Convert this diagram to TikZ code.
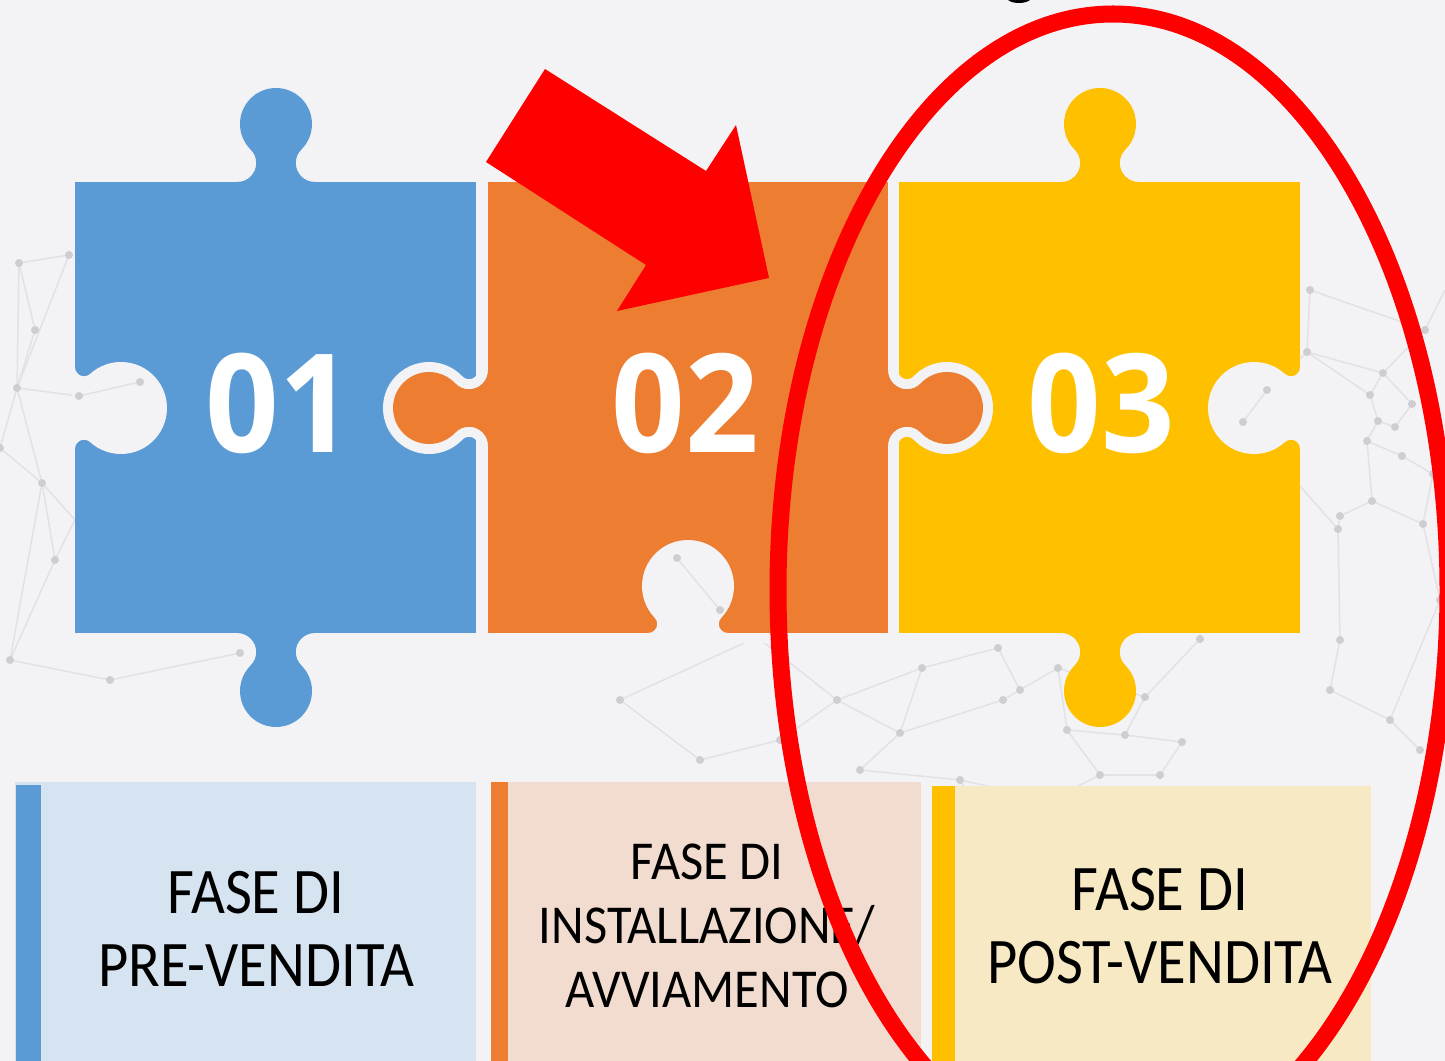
\documentclass[tikz,border=0pt]{standalone}
\usepackage{graphicx}
\usepackage{fontspec}
\setmainfont{Carlito}
\newfontfamily\digfont{Open Sans}
\definecolor{bgc}{HTML}{F3F3F6}
\definecolor{pblue}{HTML}{5B9BD5}
\definecolor{pora}{HTML}{ED7D31}
\definecolor{pyel}{HTML}{FFC000}
\definecolor{boxa}{HTML}{D6E3F0}
\definecolor{boxb}{HTML}{F2DCCF}
\definecolor{boxc}{HTML}{F7E9C4}
\definecolor{netl}{HTML}{E2E2E6}
\definecolor{netd}{HTML}{CDCDD2}
\definecolor{pred}{HTML}{FF0000}
\newcommand\sqz[1]{\scalebox{0.9}[1]{#1}}
\newcommand\sqzb[1]{\scalebox{0.92}[1]{#1}}
\newcommand\sqzd[1]{\scalebox{0.94}[1]{#1}}
% tab / keyhole: #1 style, #2 x, #3 y, #4 rotation, #5 knob radius, #6 knob centre distance, #7 fillet radius
\newcommand\puztab[7]{%
  \begin{scope}[shift={(#2,#3)}, rotate=#4]
    \pgfmathsetmacro\pzw{sqrt((#5+#7)^2-(#6-#7)^2)-#7}
    \pgfmathsetmacro\pza{atan2(#6-#7,\pzw+#7)}
    \path[#1] ({-\pzw-#7},0) arc[start angle=90, end angle={-\pza}, radius=#7]
      arc[start angle={180-\pza}, end angle={360+\pza}, radius=#5]
      arc[start angle={180+\pza}, end angle=90, radius=#7]
      -- ({\pzw+#7},3) -- ({-\pzw-#7},3) -- cycle;
  \end{scope}}
\tikzset{
  pzhalo/.style={draw=bgc, line width=0.2cm, line join=round},
  netline/.style={draw=netl, line width=0.015cm},
  netdot/.style={fill=netd},
  lbla/.style={anchor=base, inner sep=0pt, text=black, font=\fontsize{18.5pt}{20pt}\selectfont},
  lblb/.style={anchor=base, inner sep=0pt, text=black, font=\fontsize{15.6pt}{17pt}\selectfont},
  dig/.style={anchor=base, inner sep=0pt, text=white, font=\digfont\fontsize{39pt}{39pt}\selectfont\bfseries},
}
\begin{document}
\begin{tikzpicture}[x=0.01cm,y=-0.01cm]
\useasboundingbox (0,0) rectangle (1445,1061);
\clip (0,0) rectangle (1445,1061);
\fill[bgc] (0,0) rectangle (1445,1061);

% background network
\foreach \n/\x/\y in {L1/19/263,L2/69/255,L3/17/388,L4/79/396,L5/140/382,L6/0/448,L7/42/483,L8/10/660,L9/110/680,L10/240/653,L11/55/560,L12/35/330,L13/75/520,
  R1/1307/352,R2/1383/373,R3/1370/395,R4/1412/404,R5/1378/421,R6/1395/427,R7/1367/441,R8/1402/456,R9/1433/474,R10/1372/501,R11/1340/516,R12/1338/529,R13/1423/524,R14/1267/390,R15/1243/422,R16/1425/330,R17/1440/600,R18/1340/640,R19/1330/690,R20/1390/720,R21/1420/750,R22/1310/290,R23/1445/290,
  M1/677/558,M2/720/610,M3/757/637,M4/837/700,M5/922/668,M6/900/733,M7/998/648,M8/1020/690,M9/1058/668,M10/1067/730,M11/1145/697,M12/1125/735,M13/1182/742,M14/1200/639,M15/1003/700,M16/620/700,M17/700/760,M18/780/740,M19/860/770,M20/960/780,M21/1100/775,M22/1160/775,M23/1050/800,M24/990/830,M25/1070/860}
  {\coordinate (\n) at (\x,\y);}
\foreach \a/\b in {L1/L2,L1/L3,L2/L3,L3/L4,L4/L5,L3/L7,L6/L7,L7/L8,L7/L11,L11/L8,L8/L9,L9/L10,L3/L6,L1/L12,L12/L3,L7/L13,L11/L13,
  R14/R15,R14/R1,R1/R2,R2/R3,R3/R5,R5/R6,R4/R6,R2/R4,R5/R7,R7/R8,R8/R9,R7/R10,R10/R11,R11/R12,R10/R13,R9/R13,R13/R17,R12/R18,R18/R19,R19/R20,R20/R21,R17/R20,R16/R2,R22/R1,R22/R16,R15/R12,R16/R23,R1/R3,
  M1/M2,M2/M3,M3/M4,M4/M5,M4/M6,M5/M7,M5/M6,M7/M8,M8/M9,M9/M10,M8/M15,M15/M6,M9/M11,M11/M12,M12/M13,M11/M14,M10/M12,M16/M17,M17/M18,M18/M4,M16/M3,M6/M19,M19/M20,M20/M23,M23/M21,M21/M22,M22/M13,M10/M21,M20/M24,M24/M25,M23/M25}
  {\draw[netline] (\a) -- (\b);}
\foreach \p in {L1,L2,L3,L6,L7,L8,L9,L10,L11,L12,R1,R2,R3,R4,R5,R6,R7,R8,R9,R10,R11,R12,R13,R16,R17,R18,R19,R20,R21,R22,M3,M4,M5,M6,M7,M8,M9,M10,M11,M12,M13,M14,M15,M16,M17,M18,M19,M20,M21,M22,M23,M24,M25}
  {\fill[netdot] (\p) circle[radius=4];}

% piece 01 (blue)
\fill[pblue] (75,182) rectangle (476,633);
\puztab{fill=pblue}{276}{182}{0}{36}{58}{19}
\puztab{fill=pblue}{276}{633}{180}{36}{58}{19}
% piece 03 (yellow)
\fill[pyel] (899,182) rectangle (1300,633);
\puztab{fill=pyel}{1100}{182}{0}{36}{58}{19}
\puztab{fill=pyel}{1100}{633}{180}{36}{58}{19}
% piece 02 (orange) with gap halo
\path[pzhalo] (488,182) rectangle (888,633);
\puztab{pzhalo}{488}{408}{90}{36}{59}{19}
\puztab{pzhalo}{888}{408}{-90}{36}{59}{19}
\fill[pora] (488,182) rectangle (888,633);
\puztab{fill=pora}{488}{408}{90}{36}{59}{19}
\puztab{fill=pora}{888}{408}{-90}{36}{59}{19}
% keyholes
\puztab{fill=bgc}{75}{408}{-90}{46}{46}{9}
\puztab{fill=bgc}{1300}{408}{90}{46}{46}{9}
\puztab{fill=bgc}{688}{633}{0}{46}{47}{9}
\foreach \a/\b in {L4/L5,R14/R15,M1/M2}{\draw[netline] (\a) -- (\b);}
\foreach \p in {L4,L5,R14,R15,M1,M2}{\fill[netdot] (\p) circle[radius=4];}

% numbers
\node[dig] (n1) at (279,453) {\sqzd{01}};
\node[dig] (n2) at (685,453) {\sqzd{02}};
\node[dig] (n3) at (1101,453) {\sqzd{03}};

% bottom boxes
\fill[boxa] (15,782) rectangle (476,1061);
\fill[pblue] (16,785) rectangle (41,1061);
\fill[boxb] (491,782) rectangle (921,1061);
\fill[pora] (491,782) rectangle (508,1061);
\fill[boxc] (932,786) rectangle (1371,1061);
\fill[pyel] (932,786) rectangle (955,1061);

\node[lbla] (b1a) at (256,913) {\sqz{FASE DI}};
\node[lbla] (b1b) at (256,986) {\sqz{PRE-VENDITA}};
\node[lblb] (b2a) at (707,879) {\sqzb{FASE DI}};
\node[lblb] (b2b) at (707,943) {\sqzb{INSTALLAZIONE/}};
\node[lblb] (b2c) at (707,1007) {\sqzb{AVVIAMENTO}};
\node[lbla] (b3a) at (1160,910) {\sqz{FASE DI}};
\node[lbla] (b3b) at (1160,983) {\sqz{POST-VENDITA}};

% red arrow
\fill[pred] (545,69) -- (486,162) -- (646,265) -- (617,311) -- (769,278) -- (736,125) -- (706,171) -- cycle;
% red ellipse
\draw[pred, line width=0.17cm] (1113,590) ellipse[x radius=335, y radius=576];
% fragment of cut-off title at the top edge
\fill[black] (1008,0) .. controls (1013,4) and (1025,4) .. (1030,0) -- cycle;
\end{tikzpicture}
\end{document}
